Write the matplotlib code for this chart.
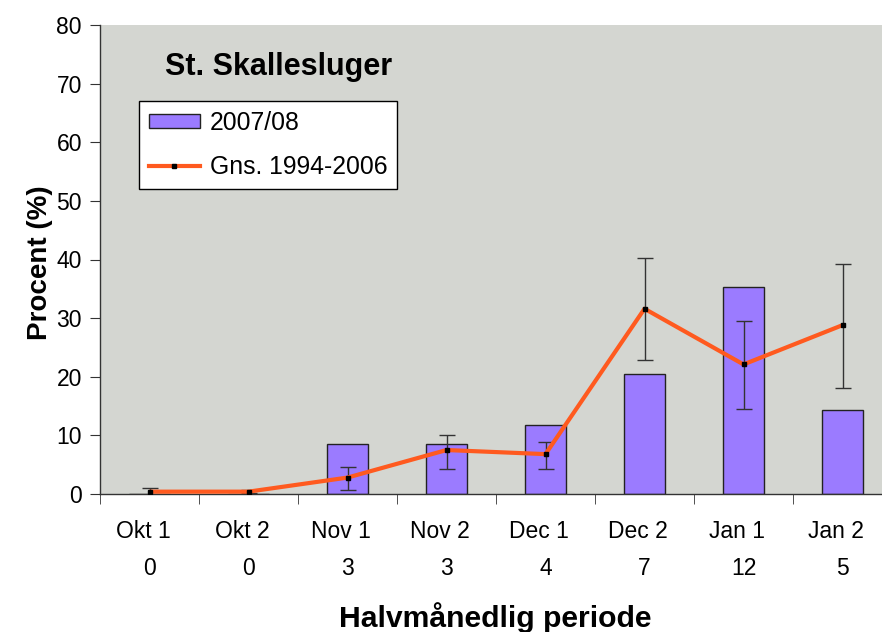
import matplotlib
matplotlib.use("Agg")
import matplotlib.pyplot as plt
from matplotlib.patches import Patch
from matplotlib.lines import Line2D
import numpy as np

plt.rcParams['font.family'] = ['Liberation Sans', 'DejaVu Sans']

periods = ["Okt 1", "Okt 2", "Nov 1", "Nov 2", "Dec 1", "Dec 2", "Jan 1", "Jan 2"]
counts = ["0", "0", "3", "3", "4", "7", "12", "5"]
season_0708 = [0.0, 0.0, 8.6, 8.6, 11.7, 20.4, 35.3, 14.4]
mean_9406 = [0.4, 0.4, 2.8, 7.5, 6.8, 31.6, 22.1, 28.8]
err_low = [-0.3, 0.1, 0.7, 4.2, 4.2, 22.8, 14.5, 18.0]
err_high = [1.1, 0.7, 4.6, 10.1, 8.9, 40.2, 29.5, 39.3]

W, H = 882, 632
fig = plt.figure(figsize=(W / 100, H / 100), dpi=100)
ax = fig.add_axes([100 / W, 1 - 494 / H, 792 / W, 469 / H])
ax.set_facecolor('#d4d6d1')

x = np.arange(len(periods))
ax.bar(x, season_0708, width=0.41, color='#9b7bff', edgecolor='#222222',
       linewidth=1, zorder=2)

m = np.array(mean_9406)
lo = m - np.array(err_low)
hi = np.array(err_high) - m
ax.errorbar(x, m, yerr=[lo, hi], fmt='none', ecolor='#333333', elinewidth=1,
            capsize=6, capthick=1, zorder=3)
ax.plot(x, m, color='#ff5a1f', linewidth=3.0, zorder=4, solid_capstyle='butt')
ax.plot(x, m, linestyle='none', marker='s', markersize=3.5, color='black', zorder=5)

ax.set_xlim(-0.5, len(periods) - 0.5)
ax.set_ylim(0, 80)
ax.set_yticks(np.arange(0, 81, 10))
ax.set_xticks(x)
ax.set_xticklabels([f"{p}  \n{c}" for p, c in zip(periods, counts)],
                   linespacing=1.75)
ax.set_xticks(np.arange(-0.5, len(periods) + 0.5, 1), minor=True)
ax.tick_params(axis='x', which='major', length=0, pad=19, labelsize=16.5)
ax.tick_params(axis='x', which='minor', length=7, direction='out', color='#333333')
ax.tick_params(axis='y', length=7, direction='out', color='#333333', labelsize=16.5, pad=6)

for s in ['top', 'right']:
    ax.spines[s].set_visible(False)
for s in ['left', 'bottom']:
    ax.spines[s].set_color('#333333')
    ax.spines[s].set_linewidth(1)

fig.text(47 / W, 1 - 263 / H, "Procent (%)", fontsize=20, fontweight='bold',
         rotation=90, rotation_mode='anchor', ha='center', va='baseline')
fig.text(495 / W, 1 - 627 / H, "Halvmånedlig periode", fontsize=21.7,
         fontweight='bold', ha='center', va='baseline')

fig.text(165 / W, 1 - 75 / H, "St. Skallesluger", fontsize=22, fontweight='bold',
         va='baseline', ha='left')

handles = [Patch(facecolor='#9b7bff', edgecolor='#222222', linewidth=1),
           Line2D([0], [0], color='#ff5a1f', linewidth=3.0, marker='s',
                  markersize=3.5, markerfacecolor='black', markeredgecolor='black')]
leg = fig.legend(handles, ["2007/08", "Gns. 1994-2006"], loc='upper left',
                 bbox_to_anchor=(139 / W, 1 - 101 / H), borderaxespad=0,
                 fontsize=17.8, frameon=True, fancybox=False, framealpha=1,
                 edgecolor='black', handlelength=2.06, handleheight=0.53,
                 handletextpad=0.4, borderpad=0.4, labelspacing=0.82)
leg.get_frame().set_linewidth(1)

fig.savefig("out.png", dpi=100)
